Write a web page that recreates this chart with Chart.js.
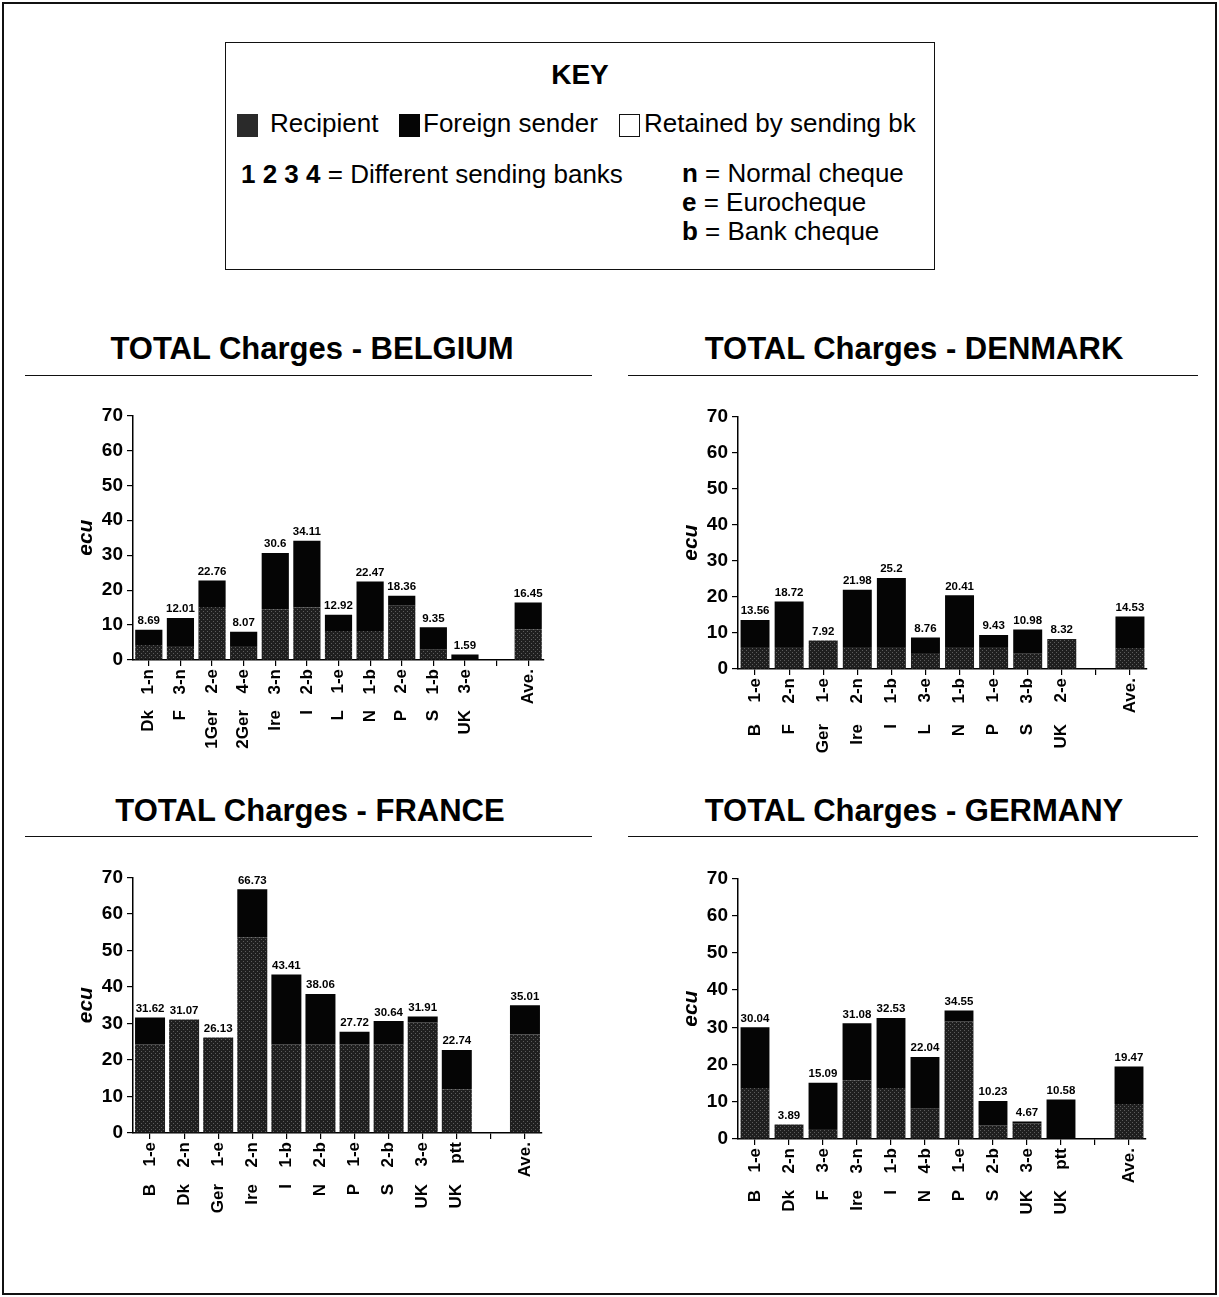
<!DOCTYPE html>
<html>
<head>
<meta charset="utf-8">
<script src="https://cdn.jsdelivr.net/npm/chart.js@4.4.1/dist/chart.umd.min.js"></script>
<style>
  body { margin: 0; background: #fff; font-family: "Liberation Sans", Arial, sans-serif; color: #000; }
  #page { position: relative; width: 1219px; height: 1297px; overflow: hidden; }
  #frame { position: absolute; left: 2px; top: 2px; width: 1211px; height: 1289px; border: 2px solid #111; }
  #key { position: absolute; left: 225px; top: 42px; width: 708px; height: 226px; border: 1px solid #111; font-size: 26px; }
  .abs { position: absolute; white-space: nowrap; }
  .sw { position: absolute; width: 21px; height: 23px; box-sizing: border-box; }
  .title { position: absolute; font-weight: bold; font-size: 31px; text-align: center; white-space: nowrap; transform: translateX(-50%); }
  .rule { position: absolute; height: 0; border-top: 1.5px solid #111; }
  canvas { position: absolute; }
</style>
</head>
<body>
<div id="page">
  <div id="frame"></div>
  <div id="key">
    <div class="abs" style="left:0;width:708px;text-align:center;top:16px;font-weight:bold;font-size:28px;">KEY</div>
    <span class="sw" style="left:11px;top:71px;background:#2a2a2a;"></span>
    <div class="abs" style="left:44px;top:65px;">Recipient</div>
    <span class="sw" style="left:173px;top:71px;background:#050505;"></span>
    <div class="abs" style="left:197px;top:65px;">Foreign sender</div>
    <span class="sw" style="left:393px;top:71px;background:#fff;border:1.5px solid #111;"></span>
    <div class="abs" style="left:418px;top:65px;">Retained by sending bk</div>
    <div class="abs" style="left:15px;top:116px;"><b>1 2 3 4</b> = Different sending banks</div>
    <div class="abs" style="left:456px;top:116px;line-height:29px;">
      <b>n</b> = Normal cheque<br><b>e</b> = Eurocheque<br><b>b</b> = Bank cheque
    </div>
  </div>

  <div class="title" style="left:312px;top:331px;">TOTAL Charges - BELGIUM</div>
  <div class="title" style="left:914px;top:331px;">TOTAL Charges - DENMARK</div>
  <div class="title" style="left:310px;top:793px;">TOTAL Charges - FRANCE</div>
  <div class="title" style="left:914px;top:793px;">TOTAL Charges - GERMANY</div>
  <div class="rule" style="left:25px;width:567px;top:375px;"></div>
  <div class="rule" style="left:628px;width:570px;top:375px;"></div>
  <div class="rule" style="left:25px;width:567px;top:836px;"></div>
  <div class="rule" style="left:628px;width:570px;top:836px;"></div>

  <canvas id="belgium" width="494" height="360" style="left:60px;top:400px;"></canvas>
  <canvas id="denmark" width="492" height="370" style="left:665px;top:401px;"></canvas>
  <canvas id="france" width="492" height="370" style="left:60px;top:862px;"></canvas>
  <canvas id="germany" width="491" height="370" style="left:665px;top:863px;"></canvas>
</div>

<script>
// Belgium
const belgiumCodes = ['1-n', '3-n', '2-e', '4-e', '3-n', '2-b', '1-e', '1-b', '2-e', '1-b', '3-e', '', 'Ave.'];
const belgiumCountries = ['Dk', 'F', '1Ger', '2Ger', 'Ire', 'I', 'L', 'N', 'P', 'S', 'UK', '', ''];
const belgiumTotal = [8.69, 12.01, 22.76, 8.07, 30.6, 34.11, 12.92, 22.47, 18.36, 9.35, 1.59, null, 16.45];
const belgiumRecipient = [4.3, 4, 15.2, 4, 14.5, 15, 8.3, 8.3, 15.5, 2.9, 0, null, 8.8];

// Denmark
const denmarkCodes = ['1-e', '2-n', '1-e', '2-n', '1-b', '3-e', '1-b', '1-e', '3-b', '2-e', '', 'Ave.'];
const denmarkCountries = ['B', 'F', 'Ger', 'Ire', 'I', 'L', 'N', 'P', 'S', 'UK', '', ''];
const denmarkTotal = [13.56, 18.72, 7.92, 21.98, 25.2, 8.76, 20.41, 9.43, 10.98, 8.32, null, 14.53];
const denmarkRecipient = [6.1, 6.1, 7.92, 6.1, 6.1, 4.4, 6.1, 6.1, 4.2, 8.32, null, 5.8];

// France
const franceCodes = ['1-e', '2-n', '1-e', '2-n', '1-b', '2-b', '1-e', '2-b', '3-e', 'ptt', '', 'Ave.'];
const franceCountries = ['B', 'Dk', 'Ger', 'Ire', 'I', 'N', 'P', 'S', 'UK', 'UK', '', ''];
const franceTotal = [31.62, 31.07, 26.13, 66.73, 43.41, 38.06, 27.72, 30.64, 31.91, 22.74, null, 35.01];
const franceRecipient = [24.3, 31.07, 26.13, 53.6, 24.3, 24.3, 24.3, 24.3, 30.3, 12, null, 27];

// Germany
const germanyCodes = ['1-e', '2-n', '3-e', '3-n', '1-b', '4-b', '1-e', '2-b', '3-e', 'ptt', '', 'Ave.'];
const germanyCountries = ['B', 'Dk', 'F', 'Ire', 'I', 'N', 'P', 'S', 'UK', 'UK', '', ''];
const germanyTotal = [30.04, 3.89, 15.09, 31.08, 32.53, 22.04, 34.55, 10.23, 4.67, 10.58, null, 19.47];
const germanyRecipient = [13.7, 3.89, 2.7, 15.8, 13.7, 8.1, 31.6, 3.7, 4.2, 0, null, 9.4];

const yTicks = [0, 10, 20, 30, 40, 50, 60, 70];

Chart.defaults.font.family = '"Liberation Sans", Arial, sans-serif';
Chart.defaults.color = '#000';

// stippled grey for the recipient part
function makeStipple() {
    const c = document.createElement('canvas');
    c.width = 4; c.height = 4;
    const g = c.getContext('2d');
    g.fillStyle = '#1f1f1f';
    g.fillRect(0, 0, 4, 4);
    g.fillStyle = '#5c5c5c';
    g.fillRect(1, 1, 1, 1);
    g.fillRect(3, 3, 1, 1);
    return g.createPattern(c, 'repeat');
}
const stipple = makeStipple();

function totalsPlugin(totals) {
    return {
        id: 'totals',
        afterDatasetsDraw(chart) {
            const ctx = chart.ctx;
            ctx.save();
            ctx.font = 'bold 11.5px "Liberation Sans", Arial, sans-serif';
            ctx.fillStyle = '#000';
            ctx.textAlign = 'center';
            ctx.textBaseline = 'bottom';
            totals.forEach((t, i) => {
                if (t == null) return;
                const x = chart.scales.x.getPixelForValue(i);
                const y = chart.scales.y.getPixelForValue(t) - 3;
                ctx.fillText(String(t), x, y);
            });
            ctx.restore();
        }
    };
}

function makeChart(id, codes, countries, total, recipient, opts) {
    const foreign = total.map((t, i) => t == null ? null : +(t - recipient[i]).toFixed(2));
    const tickFont = { weight: 'bold', size: 17 };
    new Chart(document.getElementById(id), {
        type: 'bar',
        data: {
            labels: codes,
            datasets: [{
                label: 'Recipient',
                data: recipient,
                backgroundColor: stipple,
                borderWidth: 0,
                barPercentage: opts.bar,
                categoryPercentage: 1
            }, {
                label: 'Foreign sender',
                data: foreign,
                backgroundColor: '#050505',
                borderWidth: 0,
                barPercentage: opts.bar,
                categoryPercentage: 1
            }]
        },
        options: {
            responsive: false,
            animation: false,
            layout: { padding: { top: 13, right: 10, bottom: 0, left: 0 } },
            plugins: {
                legend: { display: false },
                tooltip: { enabled: false }
            },
            scales: {
                x: {
                    stacked: true,
                    offset: true,
                    weight: 0,
                    grid: { display: true, drawOnChartArea: false, offset: false, tickLength: 6, color: '#000', lineWidth: 1.2 },
                    border: { color: '#000', width: 1.5 },
                    ticks: { autoSkip: false, minRotation: 90, maxRotation: 90, padding: 3, font: tickFont },
                    afterFit: s => { s.height = opts.codeH; }
                },
                x2: {
                    type: 'category',
                    labels: countries,
                    position: 'bottom',
                    offset: true,
                    weight: 1,
                    min: 0,
                    max: countries.length - 1,
                    grid: { display: false, drawTicks: false },
                    border: { display: false },
                    ticks: { autoSkip: false, minRotation: 90, maxRotation: 90, padding: 3, font: tickFont },
                    afterFit: s => { s.height = 50; }
                },
                y: {
                    stacked: true,
                    min: 0,
                    max: 70,
                    afterBuildTicks: s => { s.ticks = yTicks.map(v => ({ value: v })); },
                    ticks: { padding: 4, font: { weight: 'bold', size: 19 } },
                    grid: { drawOnChartArea: false, tickLength: 6, color: '#000', lineWidth: 1.2 },
                    border: { color: '#000', width: 1.5 },
                    title: {
                        display: true,
                        text: 'ecu',
                        font: { size: 21, weight: 'bold', style: 'italic' },
                        padding: { top: 14, bottom: 0 }
                    },
                    afterFit: s => { s.width = 73; }
                }
            }
        },
        plugins: [totalsPlugin(total)]
    });
}

// chart area heights follow the scan: 245 / 253 / 256 / 261 px for 0..70
document.getElementById('belgium').height = 13 + 245 + 47 + 50 + 2;
document.getElementById('denmark').height = 13 + 253 + 52 + 50 + 2;
document.getElementById('france').height = 13 + 256 + 48 + 50 + 2;
document.getElementById('germany').height = 13 + 261 + 48 + 50 + 2;

makeChart('belgium', belgiumCodes, belgiumCountries, belgiumTotal, belgiumRecipient, { bar: 0.86, codeH: 47 });
makeChart('denmark', denmarkCodes, denmarkCountries, denmarkTotal, denmarkRecipient, { bar: 0.85, codeH: 52 });
makeChart('france', franceCodes, franceCountries, franceTotal, franceRecipient, { bar: 0.88, codeH: 48 });
makeChart('germany', germanyCodes, germanyCountries, germanyTotal, germanyRecipient, { bar: 0.85, codeH: 48 });
</script>
</body>
</html>
